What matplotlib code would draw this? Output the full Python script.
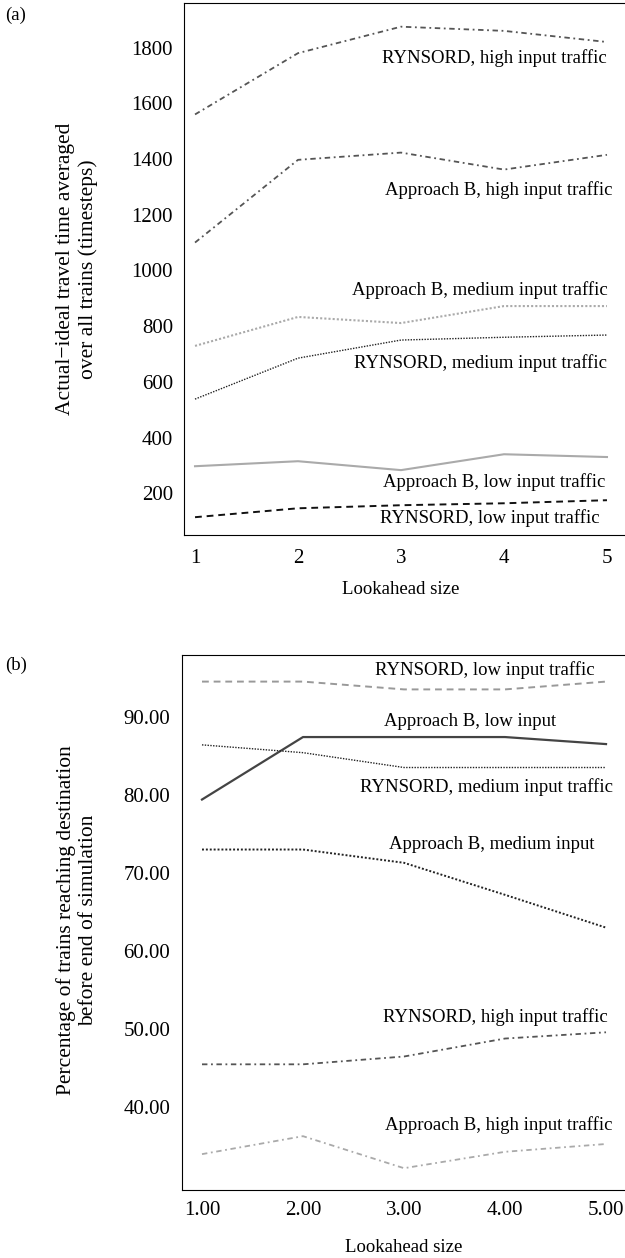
import matplotlib.pyplot as plt
from matplotlib.ticker import FormatStrFormatter

plt.rcParams['font.family'] = ['Liberation Serif', 'DejaVu Serif']

# datos
lookahead = [1, 2, 3, 4, 5]

# (a) tiempo de viaje real-ideal
a_ryn_high = [1560, 1780, 1875, 1860, 1820]
a_appb_high = [1100, 1397, 1423, 1362, 1415]
a_appb_med = [729, 833, 811, 872, 872]
a_ryn_med = [538, 685, 750, 760, 768]
a_appb_low = [297, 315, 283, 340, 330]
a_ryn_low = [114, 146, 157, 164, 175]

# (b) porcentaje de trenes que llegan a destino
b_ryn_low = [94.5, 94.5, 93.5, 93.5, 94.5]
b_appb_low = [79.4, 87.4, 87.4, 87.4, 86.5]
b_ryn_med = [86.4, 85.4, 83.5, 83.5, 83.5]
b_appb_med = [73.0, 73.0, 71.3, 67.2, 63.0]
b_ryn_high = [45.5, 45.5, 46.5, 48.8, 49.6]
b_appb_high = [34.0, 36.3, 32.2, 34.3, 35.3]

fs = 13.5      # textos de las curvas
fs_tick = 15
fs_ylab = 15.5
dashdot = (0, (3, 2, 1, 2))
dotted = (0, (1, 1))

fig = plt.figure(figsize=[6.25, 12.58], dpi=100)

# ---------------- panel (a) ----------------
ax1 = fig.add_axes([0.2944, 0.5747, 0.7056, 0.4229])
ax1.plot(lookahead, a_ryn_high, color='#555555', linestyle=dashdot, linewidth=1.3)
ax1.plot(lookahead, a_appb_high, color='#555555', linestyle=dashdot, linewidth=1.3)
ax1.plot(lookahead, a_appb_med, color='#aaaaaa', linestyle=dotted, linewidth=1.5)
ax1.plot(lookahead, a_ryn_med, color='#222222', linestyle=dotted, linewidth=1.0)
ax1.plot(lookahead, a_appb_low, color='#aaaaaa', linestyle='-', linewidth=1.5)
ax1.plot(lookahead, a_ryn_low, color='#111111', linestyle=(0, (3.5, 2.5)), linewidth=1.4)

ax1.text(5.0, 1764, 'RYNSORD, high input traffic', ha='right', va='center', fontsize=fs)
ax1.text(5.05, 1290, 'Approach B, high input traffic', ha='right', va='center', fontsize=fs)
ax1.text(5.01, 930, 'Approach B, medium input traffic', ha='right', va='center', fontsize=fs)
ax1.text(5.0, 667, 'RYNSORD, medium input traffic', ha='right', va='center', fontsize=fs)
ax1.text(4.98, 240, 'Approach B, low input traffic', ha='right', va='center', fontsize=fs)
ax1.text(4.93, 110, 'RYNSORD, low input traffic', ha='right', va='center', fontsize=fs)

ax1.set_xlim(0.893, 5.175)
ax1.set_ylim(50, 1960)
ax1.set_xticks(lookahead)
ax1.set_yticks(range(200, 2000, 200))
ax1.tick_params(length=0, labelsize=fs_tick)
ax1.tick_params(axis='x', pad=10)
ax1.tick_params(axis='y', pad=8)
ax1.spines['right'].set_visible(False)
ax1.set_xlabel('Lookahead size', fontsize=fs, va='center')
ax1.xaxis.set_label_coords(0.492, -0.103)
ax1.set_ylabel('Actual\u2212ideal travel time averaged\nover all trains (timesteps)', fontsize=fs_ylab, va='center')
ax1.yaxis.set_label_coords(-0.243, 0.5)
fig.text(0.008, 0.988, '(a)', fontsize=fs, va='center')

# ---------------- panel (b) ----------------
ax2 = fig.add_axes([0.2912, 0.054, 0.7088, 0.4253])
ax2.plot(lookahead, b_ryn_low, color='#999999', linestyle=(0, (3.5, 2.5)), linewidth=1.4)
ax2.plot(lookahead, b_appb_low, color='#444444', linestyle='-', linewidth=1.6)
ax2.plot(lookahead, b_ryn_med, color='#222222', linestyle=dotted, linewidth=1.0)
ax2.plot(lookahead, b_appb_med, color='#222222', linestyle=dotted, linewidth=1.4)
ax2.plot(lookahead, b_ryn_high, color='#555555', linestyle=dashdot, linewidth=1.3)
ax2.plot(lookahead, b_appb_high, color='#aaaaaa', linestyle=dashdot, linewidth=1.3)

ax2.text(4.89, 96.0, 'RYNSORD, low input traffic', ha='right', va='center', fontsize=fs)
ax2.text(3.65, 89.4, 'Approach B, low input', ha='center', va='center', fontsize=fs)
ax2.text(5.07, 81.0, 'RYNSORD, medium input traffic', ha='right', va='center', fontsize=fs)
ax2.text(4.89, 73.6, 'Approach B, medium input', ha='right', va='center', fontsize=fs)
ax2.text(5.02, 51.5, 'RYNSORD, high input traffic', ha='right', va='center', fontsize=fs)
ax2.text(5.06, 37.7, 'Approach B, high input traffic', ha='right', va='center', fontsize=fs)

ax2.set_xlim(0.802, 5.188)
ax2.set_ylim(29.4, 97.9)
ax2.set_xticks(lookahead)
ax2.set_yticks(range(40, 100, 10))
ax2.xaxis.set_major_formatter(FormatStrFormatter('%.2f'))
ax2.yaxis.set_major_formatter(FormatStrFormatter('%.2f'))
ax2.tick_params(length=0, labelsize=fs_tick)
ax2.tick_params(axis='x', pad=8)
ax2.tick_params(axis='y', pad=8.5)
ax2.spines['right'].set_visible(False)
ax2.set_xlabel('Lookahead size', fontsize=fs, va='center')
ax2.xaxis.set_label_coords(0.501, -0.107)
ax2.set_ylabel('Percentage of trains reaching destination\nbefore end of simulation', fontsize=fs_ylab, va='center')
ax2.yaxis.set_label_coords(-0.237, 0.505)
fig.text(0.008, 0.471, '(b)', fontsize=fs, va='center')

plt.savefig('out.png', dpi=100)
